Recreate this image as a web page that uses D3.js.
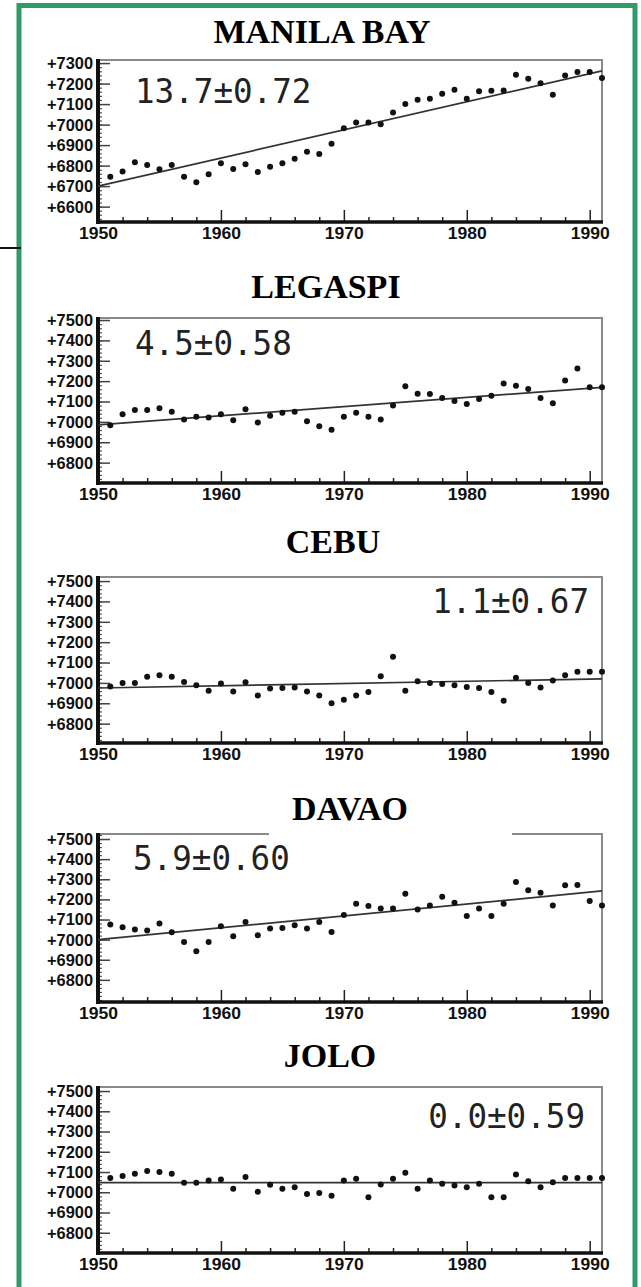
<!DOCTYPE html>
<html>
<head>
<meta charset="utf-8">
<script src="https://cdn.jsdelivr.net/npm/d3@7"></script>
<style>
  body { margin: 0; background: #fff; }
  svg { display: block; }
</style>
</head>
<body>
<script>
// Annual mean sea level (mm) at five Philippine tide gauges, 1951-1991
const years = d3.range(1951, 1992);

const stations = ["MANILA BAY", "LEGASPI", "CEBU", "DAVAO", "JOLO"];

const manilaBay = [6746, 6771, 6816, 6803, 6782, 6803, 6746, 6719, 6758, 6811,
                   6784, 6807, 6769, 6795, 6811, 6833, 6868, 6857, 6906, 6982,
                   7010, 7010, 7002, 7059, 7100, 7121, 7126, 7150, 7170, 7126,
                   7162, 7165, 7166, 7243, 7223, 7202, 7145, 7240, 7256, 7256, 7227];
const legaspi   = [6983, 7038, 7058, 7058, 7067, 7050, 7012, 7025, 7022, 7037,
                   7008, 7062, 6997, 7030, 7045, 7050, 7003, 6978, 6962, 7025,
                   7045, 7025, 7012, 7080, 7175, 7138, 7137, 7117, 7103, 7088,
                   7112, 7128, 7188, 7178, 7162, 7117, 7092, 7203, 7262, 7170, 7170];
const cebu      = [6983, 7000, 7000, 7030, 7038, 7030, 7005, 6988, 6962, 6997,
                   6958, 7003, 6938, 6972, 6975, 6978, 6958, 6938, 6900, 6917,
                   6938, 6955, 7033, 7128, 6962, 7008, 7000, 6995, 6988, 6980,
                   6975, 6955, 6912, 7025, 7000, 6978, 7012, 7038, 7055, 7055, 7055];
const davao     = [7075, 7062, 7050, 7045, 7080, 7037, 6988, 6942, 6988, 7067,
                   7017, 7088, 7022, 7055, 7058, 7072, 7055, 7087, 7038, 7122,
                   7178, 7167, 7155, 7155, 7228, 7150, 7170, 7213, 7183, 7117,
                   7155, 7117, 7178, 7287, 7245, 7233, 7170, 7270, 7272, 7192, 7170];
const jolo      = [7070, 7080, 7092, 7105, 7100, 7092, 7047, 7047, 7058, 7063,
                   7017, 7075, 7003, 7037, 7017, 7025, 6992, 6997, 6983, 7058,
                   7067, 6975, 7038, 7067, 7097, 7017, 7058, 7042, 7033, 7025,
                   7042, 6975, 6975, 7088, 7055, 7025, 7050, 7070, 7070, 7070, 7070];

// Linear trends (mm/yr), their standard errors, and fitted level at 1950
const trendRates  = [13.7, 4.5, 1.1, 5.9, 0.0];
const trendErrors = ["0.72", "0.58", "0.67", "0.60", "0.59"];
const trendStart  = [6700, 6985, 6975, 7000, 7048];

const yTickLabels = [
  [6600, 6700, 6800, 6900, 7000, 7100, 7200, 7300],
  [6800, 6900, 7000, 7100, 7200, 7300, 7400, 7500],
  [6800, 6900, 7000, 7100, 7200, 7300, 7400, 7500],
  [6800, 6900, 7000, 7100, 7200, 7300, 7400, 7500],
  [6800, 6900, 7000, 7100, 7200, 7300, 7400, 7500]
];
const xTickLabels = [1950, 1960, 1970, 1980, 1990];

const series = [manilaBay, legaspi, cebu, davao, jolo];

// Panel placement on the page
const layout = [
  { top: 60,   bottom: 222,  domain: [6525, 7315], titleX: 322, titleY: 43,   note: { x: 135, y: 103,  anchor: "start" } },
  { top: 318,  bottom: 483,  domain: [6700, 7510], titleX: 326, titleY: 298,  note: { x: 135, y: 355,  anchor: "start" } },
  { top: 577,  bottom: 743,  domain: [6705, 7520], titleX: 333, titleY: 553,  note: { x: 589, y: 613,  anchor: "end" } },
  { top: 834,  bottom: 1002, domain: [6690, 7525], titleX: 350, titleY: 820,  note: { x: 133, y: 870,  anchor: "start" }, gap: [269, 512] },
  { top: 1087, bottom: 1253, domain: [6700, 7520], titleX: 330, titleY: 1067, note: { x: 585, y: 1128, anchor: "end" } }
];

const W = 641, H = 1287;
const left = 98, right = 602;
const labelFont = "'Liberation Sans', Arial, sans-serif";

const svg = d3.select("body").append("svg")
  .attr("width", W).attr("height", H);

svg.append("rect").attr("width", W).attr("height", H).attr("fill", "#fff");

const x = d3.scaleLinear().domain([1950, 1991]).range([left, right]);

stations.forEach((name, i) => {
  const L = layout[i];
  const y = d3.scaleLinear().domain(L.domain).range([L.bottom, L.top]);
  const g = svg.append("g");

  // frame: light top/right, heavy left/bottom
  g.append("rect")
    .attr("x", left).attr("y", L.top)
    .attr("width", right - left).attr("height", L.bottom - L.top)
    .attr("fill", "none").attr("stroke", "#8a8a8a").attr("stroke-width", 2);

  if (L.gap) {
    g.append("rect")
      .attr("x", L.gap[0]).attr("y", L.top - 3)
      .attr("width", L.gap[1] - L.gap[0]).attr("height", 6)
      .attr("fill", "#fff");
  }

  // y minor ticks every 20
  const yMinor = d3.range(Math.ceil(L.domain[0] / 20) * 20, L.domain[1], 20);
  g.append("g")
    .attr("transform", `translate(${left},0)`)
    .call(d3.axisLeft(y).tickValues(yMinor).tickSizeInner(-4).tickSizeOuter(0).tickFormat(""))
    .call(a => a.select(".domain").remove())
    .call(a => a.selectAll("line").attr("stroke", "#555").attr("stroke-width", 1.2));

  // y labelled ticks
  g.append("g")
    .attr("transform", `translate(${left},0)`)
    .call(d3.axisLeft(y).tickValues(yTickLabels[i]).tickSizeInner(-12).tickSizeOuter(0)
      .tickPadding(5).tickFormat(d => "+" + d))
    .call(a => a.select(".domain").remove())
    .call(a => a.selectAll("line").attr("stroke", "#444").attr("stroke-width", 1.5))
    .call(a => a.selectAll("text")
      .attr("font-family", labelFont).attr("font-weight", "bold")
      .attr("font-size", 17).attr("fill", "#111")
      .attr("textLength", 46).attr("lengthAdjust", "spacingAndGlyphs"));

  // x minor ticks every 2 years
  const xMinor = d3.range(1952, 1991, 2).filter(v => v % 10 !== 0);
  g.append("g")
    .attr("transform", `translate(0,${L.bottom})`)
    .call(d3.axisBottom(x).tickValues(xMinor).tickSizeInner(-5).tickSizeOuter(0).tickFormat(""))
    .call(a => a.select(".domain").remove())
    .call(a => a.selectAll("line").attr("stroke", "#222").attr("stroke-width", 1.5));

  // x labelled ticks
  g.append("g")
    .attr("transform", `translate(0,${L.bottom})`)
    .call(d3.axisBottom(x).tickValues(xTickLabels).tickSizeInner(-12).tickSizeOuter(0)
      .tickPadding(5).tickFormat(d3.format("d")))
    .call(a => a.select(".domain").remove())
    .call(a => a.selectAll("line").attr("stroke", "#222").attr("stroke-width", 1.5))
    .call(a => a.selectAll("text")
      .attr("font-family", labelFont).attr("font-weight", "bold")
      .attr("font-size", 17).attr("fill", "#111")
      .attr("textLength", 39).attr("lengthAdjust", "spacingAndGlyphs"));

  // heavy left and bottom axis lines
  g.append("line")
    .attr("x1", left).attr("x2", left)
    .attr("y1", L.top - 1).attr("y2", L.bottom + 2)
    .attr("stroke", "#111").attr("stroke-width", 4);
  g.append("line")
    .attr("x1", left - 2).attr("x2", right + 1)
    .attr("y1", L.bottom).attr("y2", L.bottom)
    .attr("stroke", "#111").attr("stroke-width", 3.5);

  // trend line
  const fit = yr => trendStart[i] + trendRates[i] * (yr - 1950);
  g.append("line")
    .attr("x1", x(1950)).attr("x2", x(1991))
    .attr("y1", y(fit(1950))).attr("y2", y(fit(1991)))
    .attr("stroke", "#333").attr("stroke-width", 1.7);

  // annual means
  g.append("g").selectAll("circle")
    .data(series[i].map((v, k) => ({ year: years[k], value: v })))
    .join("circle")
    .attr("cx", d => x(d.year))
    .attr("cy", d => y(d.value))
    .attr("r", 3)
    .attr("fill", "#111");

  // trend annotation
  const noteText = trendRates[i].toFixed(1) + "\u00b1" + trendErrors[i];
  g.append("text")
    .attr("x", L.note.x).attr("y", L.note.y)
    .attr("text-anchor", L.note.anchor)
    .attr("font-family", "'DejaVu Sans Mono', monospace")
    .attr("font-size", 33)
    .attr("fill", "#222")
    .attr("textLength", noteText.length * 19.6)
    .attr("lengthAdjust", "spacingAndGlyphs")
    .text(noteText);

  // station title
  g.append("text")
    .attr("x", L.titleX).attr("y", L.titleY)
    .attr("text-anchor", "middle")
    .attr("font-family", "'Liberation Serif', 'Times New Roman', serif")
    .attr("font-weight", "bold")
    .attr("font-size", 34)
    .attr("fill", "#000")
    .text(name);
});

// outer frame: left, top and right edges run off the bottom of the page
svg.append("path")
  .attr("d", `M19,${H} V5.5 H635 V${H}`)
  .attr("fill", "none")
  .attr("stroke", "#329a68")
  .attr("stroke-width", 5);

// connector stub on the left margin
svg.append("line")
  .attr("x1", 0).attr("x2", 21)
  .attr("y1", 248).attr("y2", 248)
  .attr("stroke", "#111").attr("stroke-width", 2);
</script>
</body>
</html>
